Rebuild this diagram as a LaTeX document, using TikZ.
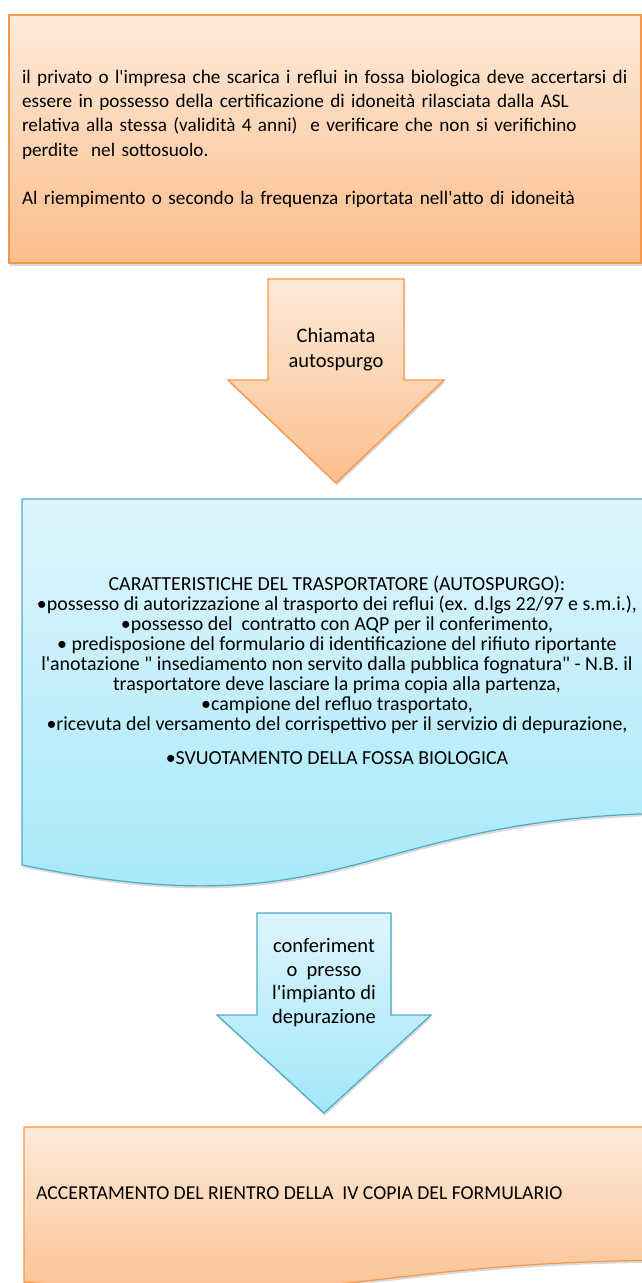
\documentclass[tikz,border=0pt]{standalone}
\usepackage{fontspec}
\setmainfont{Carlito}[Ligatures=TeXOff]
\usetikzlibrary{shadows}

\definecolor{orangetop}{RGB}{253,234,218}
\definecolor{orangebottom}{RGB}{251,190,140}
\definecolor{orangeline}{RGB}{247,150,70}
\definecolor{bluetop}{RGB}{222,245,252}
\definecolor{bluebottom}{RGB}{162,231,250}
\definecolor{blueline}{RGB}{75,172,198}

\tikzstyle{orangefill} = [top color=orangetop, bottom color=orangebottom, draw=orangeline, line width=1.2pt]
\tikzstyle{bluefill} = [top color=bluetop, bottom color=bluebottom, draw=blueline, line width=1.2pt]
\tikzstyle{boxshadow} = [drop shadow={shadow xshift=1pt, shadow yshift=-2.5pt, opacity=0.3}]
\tikzstyle{boxtext} = [font=\fontsize{19.2}{24.3}\selectfont, inner sep=0pt]
\tikzstyle{listtext} = [font=\fontsize{19.9}{20}\selectfont, inner sep=0pt, align=center]
\tikzstyle{arrowtext} = [font=\fontsize{20.5}{24.5}\selectfont, inner sep=0pt, align=center]

\begin{document}
\begin{tikzpicture}[x=1pt, y=1pt]
    \useasboundingbox (0,-1283) rectangle (642,0);
    \clip (0,-1283) rectangle (642,0);

    % first box
    \node[orangefill, boxshadow, boxtext, minimum width=632pt, minimum height=248pt,
          text width=606pt, inner xsep=13pt, align=left] (privato) at (325,-139)
      {il privato o l'impresa che scarica i reflui in fossa biologica deve accertarsi di\\
       essere in possesso della certificazione di idoneità rilasciata dalla ASL\\
       relativa alla stessa (validità 4 anni)\ \ e verificare che non si verifichino\\
       perdite\ \ nel sottosuolo.\\[24.3pt]
       Al riempimento o secondo la frequenza riportata nell'atto di idoneità};

    % document shapes
    \draw[bluefill, boxshadow] (22,-499) -- (690,-499) -- (690,-813)
      .. controls (356,-813) and (356,-933) .. (22,-865) -- cycle;
    \draw[orangefill, boxshadow] (24,-1127) -- (692,-1127) -- (692,-1260)
      .. controls (358,-1260) and (358,-1311) .. (24,-1282) -- cycle;

    % block arrows
    \foreach \cx/\ytop/\yhead/\ytip/\shaft/\head/\look in {
      336/279/380/483/68/108/orangefill,
      324/913/1015/1113/67/107/bluefill}
    {
      \draw[\look, boxshadow] (\cx-\shaft,-\ytop) -- (\cx+\shaft,-\ytop) -- (\cx+\shaft,-\yhead)
        -- (\cx+\head,-\yhead) -- (\cx,-\ytip) -- (\cx-\head,-\yhead) -- (\cx-\shaft,-\yhead) -- cycle;
    }

    \node[arrowtext] (chiamata) at (336,-349.5) {Chiamata\\autospurgo};
    \node[arrowtext, font=\fontsize{20.5}{23.7}\selectfont] (conferimento) at (324,-982.5)
      {conferiment\\o\ \ presso\\l'impianto di\\depurazione};

    \node[listtext] (trasportatore) at (337,-670)
      {CARATTERISTICHE DEL TRASPORTATORE (AUTOSPURGO):\\
       •possesso di autorizzazione al trasporto dei reflui (ex. d.lgs 22/97 e s.m.i.),\\
       •possesso del\ \ contratto con AQP per il conferimento,\\
       • predisposione del formulario di identificazione del rifiuto riportante\\
       l'anotazione " insediamento non servito dalla pubblica fognatura" - N.B. il\\
       trasportatore deve lasciare la prima copia alla partenza,\\
       •campione del refluo trasportato,\\
       •ricevuta del versamento del corrispettivo per il servizio di depurazione,\\[14pt]
       •SVUOTAMENTO DELLA FOSSA BIOLOGICA};

    \node[boxtext, font=\fontsize{19.7}{24}\selectfont, anchor=west] (accertamento) at (36,-1193)
      {ACCERTAMENTO DEL RIENTRO DELLA\ \ IV COPIA DEL FORMULARIO};

\end{tikzpicture}
\end{document}
